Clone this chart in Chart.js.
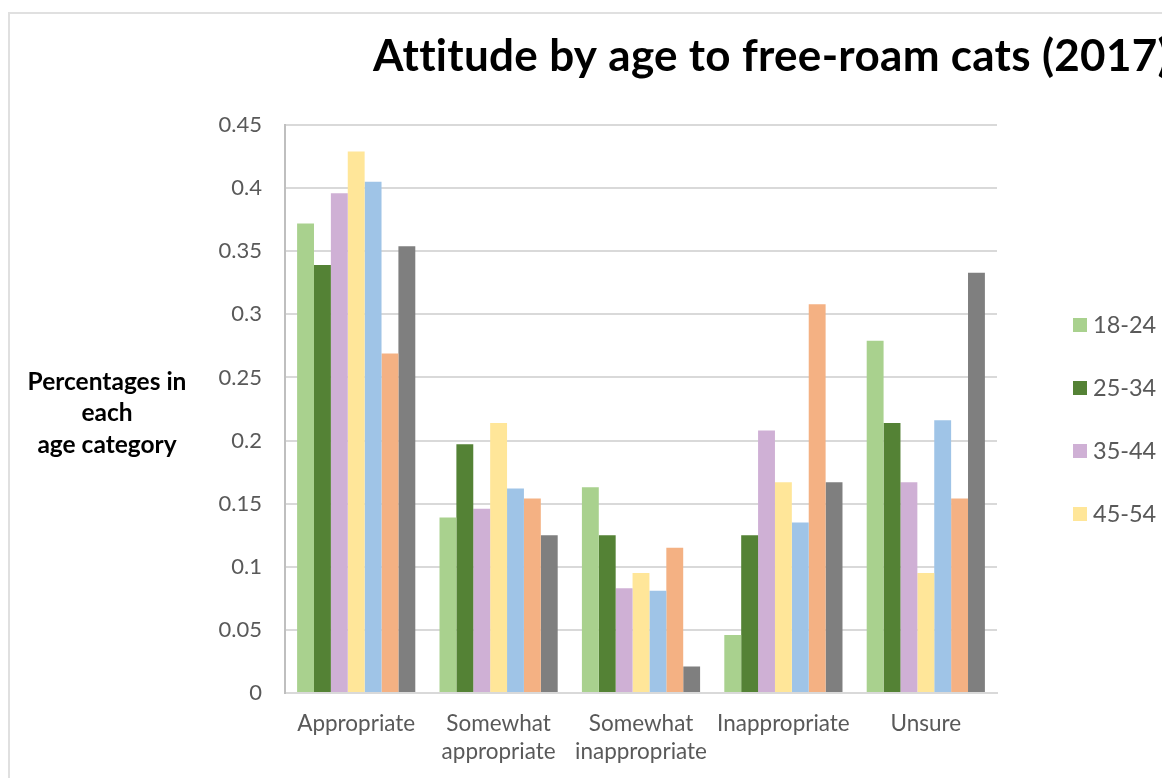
<!DOCTYPE html>
<html>
<head>
<meta charset="utf-8">
<script src="https://cdn.jsdelivr.net/npm/chart.js@4.4.1/dist/chart.umd.min.js"></script>
<style>
  html, body { margin: 0; padding: 0; background: #ffffff; overflow: hidden; width: 1162px; height: 778px; }
  #frame { position: absolute; left: 8px; top: 12px; width: 1400px; height: 1000px; border: 2px solid #e0e0e0; }
  #wrap { position: absolute; left: 0; top: 0; width: 1162px; height: 778px; }
</style>
</head>
<body>
<div id="frame"></div>
<div id="wrap"><canvas id="chart" width="1162" height="778"></canvas></div>
<script>
// Survey answers, one group of bars per answer
const categories = [['Appropriate'], ['Somewhat', 'appropriate'], ['Somewhat', 'inappropriate'], ['Inappropriate'], ['Unsure']];

// Share of each age group giving each answer
const age18to24 = [0.372, 0.139, 0.163, 0.046, 0.279];
const age25to34 = [0.339, 0.197, 0.125, 0.125, 0.214];
const age35to44 = [0.396, 0.146, 0.083, 0.208, 0.167];
const age45to54 = [0.429, 0.214, 0.095, 0.167, 0.095];
const age55to64 = [0.405, 0.162, 0.081, 0.135, 0.216];
const age65to74 = [0.269, 0.154, 0.115, 0.308, 0.154];
const age75plus = [0.354, 0.125, 0.021, 0.167, 0.333];

const seriesNames = ['18-24', '25-34', '35-44', '45-54', '55-64', '65-74', '75+'];
const seriesValues = [age18to24, age25to34, age35to44, age45to54, age55to64, age65to74, age75plus];
const seriesColors = ['#a9d18e', '#548235', '#cfb0d5', '#ffe699', '#9fc4e7', '#f4b183', '#7f7f7f'];

const yTickLabels = ['0', '0.05', '0.1', '0.15', '0.2', '0.25', '0.3', '0.35', '0.4', '0.45'];

const chartTitle = 'Attitude by age to free-roam cats (2017)';
const yAxisTitle = ['Percentages in', 'each', 'age category'];
const legendShown = 4; // the key box only has room for the first four groups

// Title, horizontal axis caption and the key, drawn on top of the chart
const decorations = {
  id: 'decorations',
  afterDraw(chart) {
    const ctx = chart.ctx;
    ctx.save();
    ctx.fillStyle = '#000000';
    ctx.font = 'bold 44px Lato';
    ctx.letterSpacing = '0.3px';
    ctx.textAlign = 'left';
    ctx.textBaseline = 'alphabetic';
    ctx.fillText(chartTitle, 373, 71);
    ctx.letterSpacing = '0px';

    ctx.font = 'bold 24.5px Lato';
    ctx.textAlign = 'center';
    ctx.textBaseline = 'middle';
    yAxisTitle.forEach((line, i) => ctx.fillText(line, 107, 382 + i * 31.5));

    ctx.font = '23.5px Lato';
    ctx.textAlign = 'left';
    chart.data.datasets.slice(0, legendShown).forEach((ds, i) => {
      const y = 325 + i * 63;
      ctx.fillStyle = ds.backgroundColor;
      ctx.fillRect(1073, y - 7, 14, 14);
      ctx.fillStyle = '#595959';
      ctx.fillText(ds.label, 1093, y);
    });
    ctx.restore();
  }
};

new Chart(document.getElementById('chart'), {
  type: 'bar',
  data: {
    labels: categories,
    datasets: seriesNames.map((name, i) => ({
      label: name,
      data: seriesValues[i],
      backgroundColor: seriesColors[i],
      borderWidth: 0,
      barPercentage: 1.0,
      categoryPercentage: 0.83
    }))
  },
  options: {
    responsive: false,
    animation: false,
    devicePixelRatio: 1,
    layout: { padding: { left: 0, right: 165, top: 125, bottom: 0 } },
    plugins: {
      legend: { display: false },
      title: { display: false },
      tooltip: { enabled: false }
    },
    scales: {
      x: {
        grid: { display: false, drawTicks: false },
        border: { display: true, color: '#d9d9d9', width: 2 },
        ticks: {
          color: '#595959',
          font: { family: 'Lato', size: 22.5, lineHeight: 1.25 },
          padding: 17,
          maxRotation: 0,
          autoSkip: false
        },
        afterFit(scale) { scale.height = 85; }
      },
      y: {
        min: 0,
        max: 0.45,
        ticks: {
          stepSize: 0.05,
          color: '#595959',
          font: { family: 'Lato', size: 22 },
          padding: 23,
          callback: (value, index) => yTickLabels[index]
        },
        grid: { color: '#d9d9d9', lineWidth: 2, drawTicks: false },
        border: { display: true, color: '#bfbfbf', width: 2 },
        afterFit(scale) { scale.width = 285; }
      }
    }
  },
  plugins: [decorations]
});
</script>
</body>
</html>
